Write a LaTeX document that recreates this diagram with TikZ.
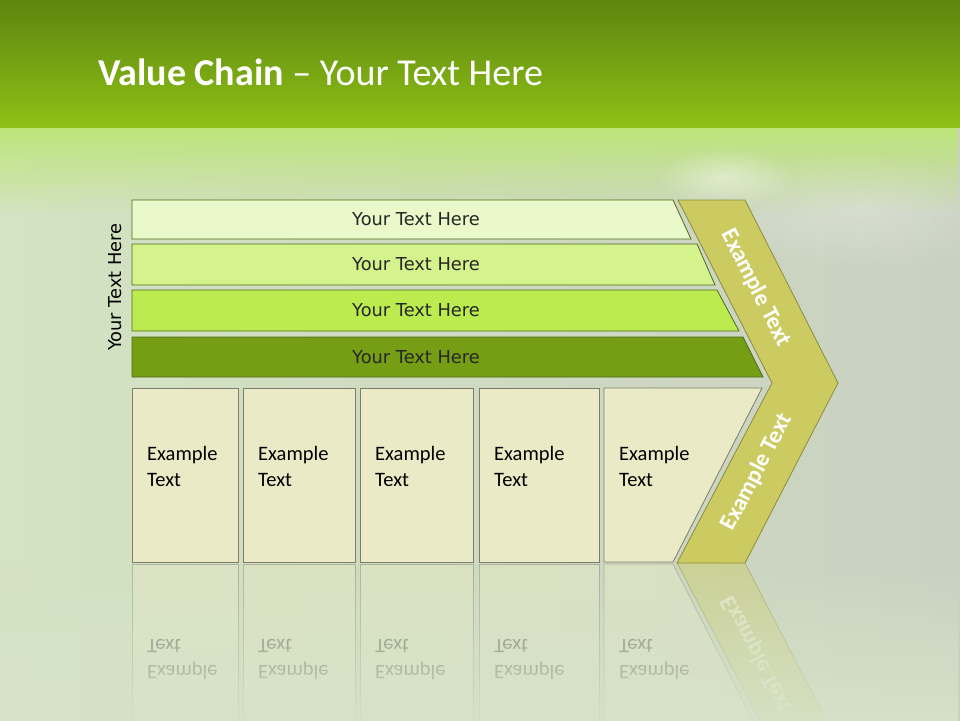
\documentclass[tikz,border=0pt]{standalone}
\usepackage{fontspec}
\setmainfont{Carlito}
\newfontfamily\barfont{DejaVu Sans}
\usetikzlibrary{fadings}

\definecolor{topdark}{HTML}{5E850F}
\definecolor{toplight}{HTML}{8DC117}
\definecolor{glow}{HTML}{BDE57A}
\definecolor{bgleft}{HTML}{D4E3C3}
\definecolor{bgright}{HTML}{C9D1C1}
\definecolor{bglow}{HTML}{D6E2C8}
\definecolor{barone}{HTML}{E9F9C9}
\definecolor{bartwo}{HTML}{D5F38C}
\definecolor{barthree}{HTML}{BCEB50}
\definecolor{barfour}{HTML}{759E14}
\definecolor{barline}{HTML}{4F6A18}
\definecolor{cellfill}{HTML}{EAEBC6}
\definecolor{cellline}{HTML}{7D7D6A}
\definecolor{chevfill}{HTML}{CBCB62}
\definecolor{chevline}{HTML}{8C8C3C}

\tikzfading[name=reflfade, top color=transparent!100, bottom color=transparent!0]
\tikzfading[name=bandfade, top color=transparent!0, bottom color=transparent!100]
\tikzfading[name=glowfade, inner color=transparent!0, outer color=transparent!100]

% boxes and chevron, drawn twice (once as reflection)
\newcommand\lowerrow{%
	\foreach \xa/\xb [count=\i] in {132/238, 243/355, 360/473, 479/599} {
		\draw[cell] (\xa,388) rectangle (\xb,562);
		\node[celltext] (cell\i) at (\xa+15,466) {Example\\Text};
	}
	\draw[cell] (604,388) -- (762,388) -- (673,562) -- (604,562) -- cycle;
	\node[celltext] (cell5) at (619,466) {Example\\Text};
	\filldraw[chev] (678,200) -- (745,200) -- (838,383) -- (745,563) -- (677,563) -- (772,383) -- cycle;
	\node[chevtext, rotate=62.4] (chevlow) at (757,472) {Example Text};
}

\begin{document}
\begin{tikzpicture}[x=1pt, y=-1pt,
	bar/.style={draw=barline, line width=0.8pt},
	bartext/.style={font=\barfont\fontsize{17.8}{21}\selectfont, text=black!85},
	cell/.style={draw=cellline, fill=cellfill, line width=0.8pt},
	celltext/.style={anchor=west, align=left, inner sep=0pt, font=\fontsize{20.5}{26}\selectfont, text=black},
	chev/.style={fill=chevfill, draw=chevline, line width=0.8pt},
	chevtext/.style={font=\bfseries\fontsize{23.5}{26}\selectfont, text=white}]
	\useasboundingbox (0,0) rectangle (960,720);
	% background
	\shade[top color=topdark, bottom color=toplight] (0,0) rectangle (960,128);
	\shade[left color=bgleft, right color=bgright] (0,128) rectangle (960,720);
	\fill[glow, path fading=bandfade] (0,128) rectangle (960,215);
	\fill[white, opacity=0.45, path fading=glowfade] (725,178) ellipse (70 and 30);
	\fill[white, opacity=0.25, path fading=glowfade] (860,210) ellipse (160 and 60);
	% title
	\node[anchor=base west, inner sep=0pt, text=white, font=\fontsize{38}{44}\selectfont] (title) at (98,85) {\textbf{Value Chain} -- Your Text Here};
	% bars
	\foreach \ya/\yb/\xt/\xbb/\clr [count=\i] in {200/239/673/691/barone, 244/285/697/715/bartwo, 290/331/717/739/barthree, 337/377/743/763/barfour} {
		\filldraw[bar, fill=\clr] (132,\ya) -- (\xt,\ya) -- (\xbb,\yb) -- (132,\yb) -- cycle;
		\node[bartext] (bar\i) at (416,{(\ya+\yb)/2}) {Your Text Here};
	}
	\node[bartext, rotate=90, text=black] (side) at (115,287) {Your Text Here};
	\lowerrow
	\node[chevtext, rotate=-62.9] (chevup) at (756,288) {Example Text};
	% reflection
	\begin{scope}
		\clip (0,563) rectangle (960,720);
		\begin{scope}[shift={(0,1126)}, yscale=-1, transform shape, opacity=0.45]
			\lowerrow
		\end{scope}
		\fill[bglow, path fading=reflfade] (0,563) rectangle (960,735);
	\end{scope}
\end{tikzpicture}
\end{document}
